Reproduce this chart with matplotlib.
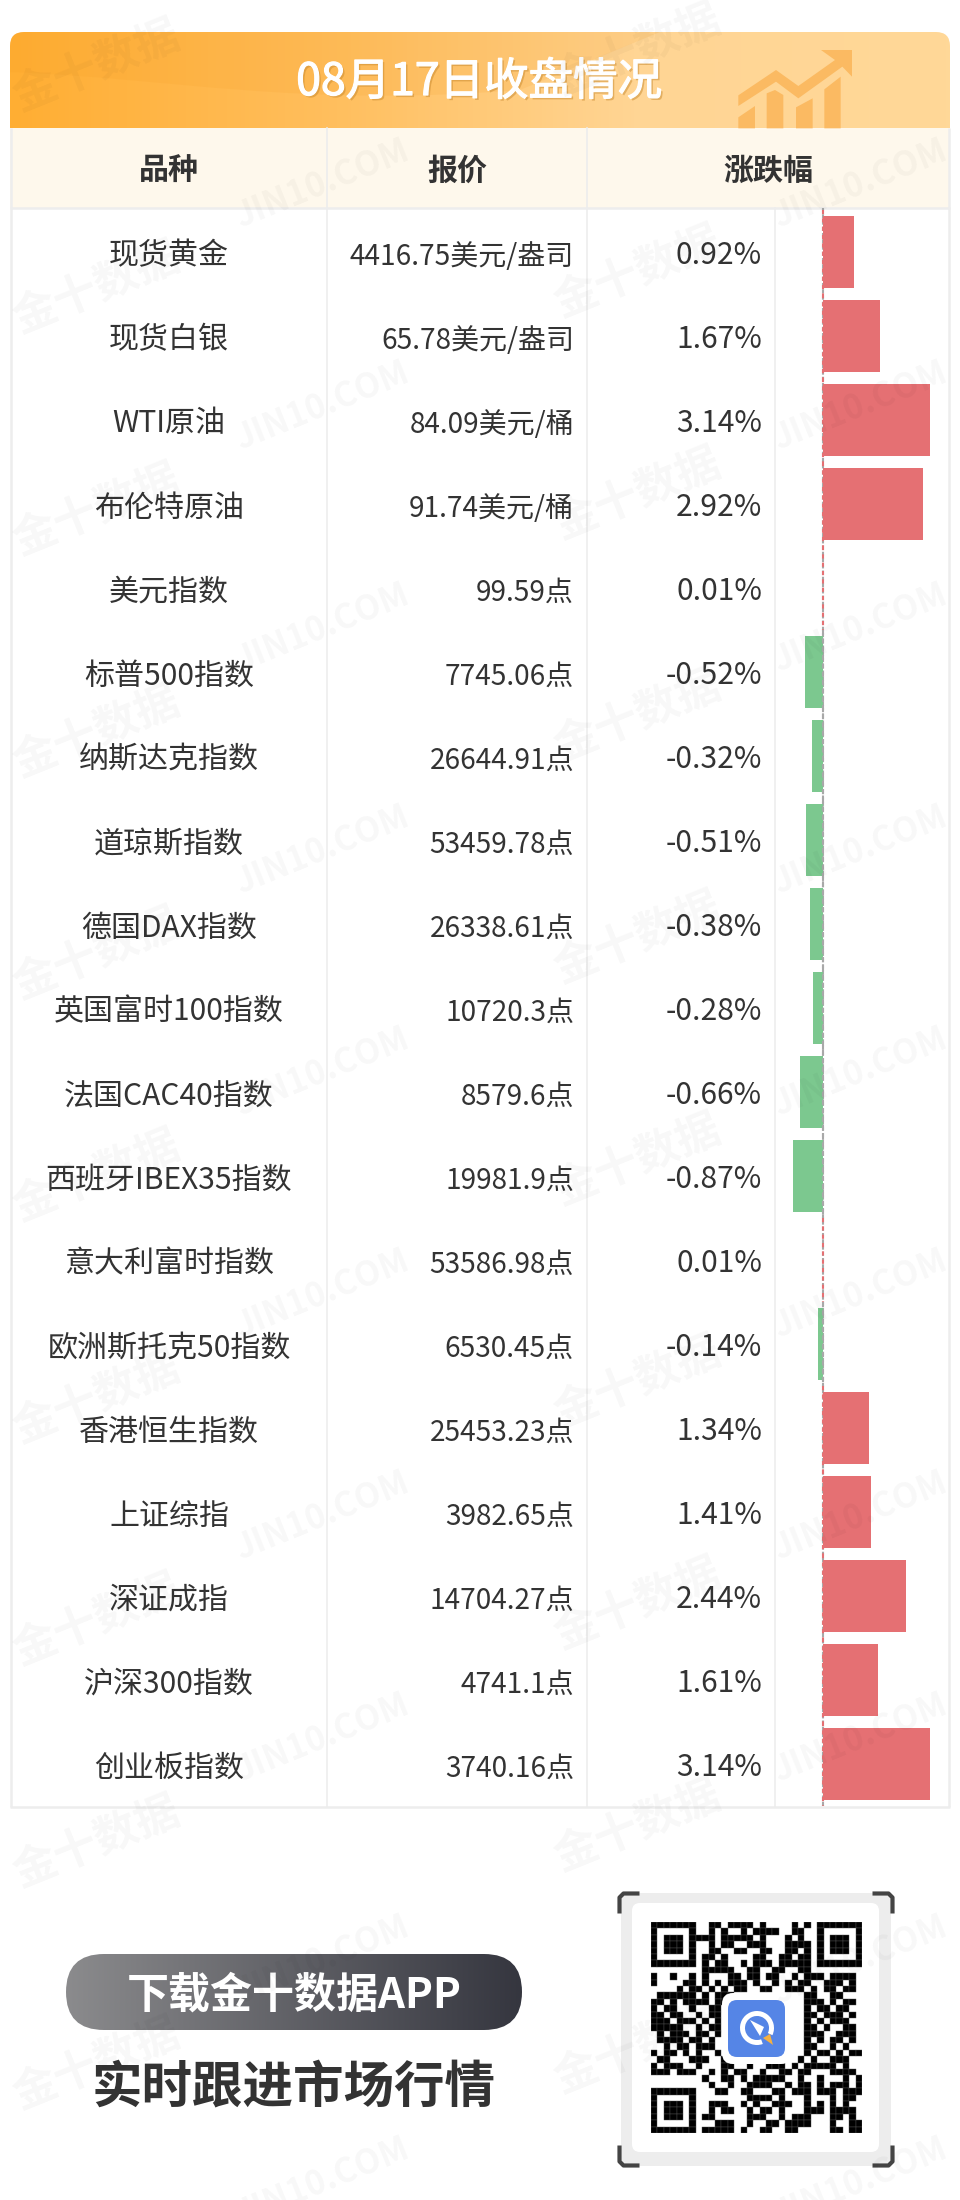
import numpy as np
import matplotlib
matplotlib.use("Agg")
import matplotlib.pyplot as plt
import matplotlib.patheffects as pe
from matplotlib.patches import FancyBboxPatch, Polygon, Wedge, Rectangle, PathPatch
from matplotlib.path import Path
from matplotlib.colors import LinearSegmentedColormap

plt.rcParams['font.family'] = ['Noto Sans CJK SC', 'DejaVu Sans']

names = ["现货黄金", "现货白银", "WTI原油", "布伦特原油", "美元指数", "标普500指数", "纳斯达克指数",
         "道琼斯指数", "德国DAX指数", "英国富时100指数", "法国CAC40指数", "西班牙IBEX35指数",
         "意大利富时指数", "欧洲斯托克50指数", "香港恒生指数", "上证综指", "深证成指", "沪深300指数", "创业板指数"]
prices = ["4416.75美元/盎司", "65.78美元/盎司", "84.09美元/桶", "91.74美元/桶", "99.59点", "7745.06点",
          "26644.91点", "53459.78点", "26338.61点", "10720.3点", "8579.6点", "19981.9点", "53586.98点",
          "6530.45点", "25453.23点", "3982.65点", "14704.27点", "4741.1点", "3740.16点"]
changes = [0.92, 1.67, 3.14, 2.92, 0.01, -0.52, -0.32, -0.51, -0.38, -0.28, -0.66, -0.87, 0.01, -0.14,
           1.34, 1.41, 2.44, 1.61, 3.14]
headers = ["品种", "报价", "涨跌幅"]
title = "08月17日收盘情况"
cta_button = "下载金十数据APP"
cta_line = "实时跟进市场行情"
qr_rows = [
 "111111100110111101000010101111111","100000100101001011110011001000001",
 "101110111101111101000101001011101","101110100101100111000111101011101",
 "101110100110011001100110101011101","100000101101000011001101101000001",
 "111111101011001011101111101111111","000000001111100110011001100000000",
 "100100101000110110110010111011110","100001101010111010010101100111010",
 "000010110101011001100111010110110","011111101011100000000000110011000",
 "110101111011000000000000111010110","101100100110000000000000101101100",
 "110110010110000000000000110111010","111011101010000000000000101011100",
 "111110010110000000000000110100110","010111011010000000000000111001110",
 "011110110100000000000000101011010","001011011100000000000000110010100",
 "101101010010000000000000101101011","011000111001000000000001010011100",
 "101110010001100100111010111110100","111011100101011001001101100011110",
 "000000001001101011111001001000101","000000000100100111100101101011101",
 "111111100011001100011011101110111","100000100000000111101000100010110",
 "101110100111001010011100101010100","101110100101100101101000111011110",
 "101110101100000111001011100011010","100000100011100100110111100010011",
 "111111101111101001100110000011011"]

W, H = 960, 2200
def px(s): return s * 0.72
def ax_px(l, t, r, b, z):
    return fig.add_axes([l / W, 1 - b / H, (r - l) / W, (b - t) / H], zorder=z)

fig = plt.figure(figsize=(W / 100, H / 100), dpi=100, facecolor='white')
bg = fig.add_axes([0, 0, 1, 1], zorder=0)
fg = fig.add_axes([0, 0, 1, 1], zorder=5)
for a in (bg, fg):
    a.set_xlim(0, W); a.set_ylim(H, 0); a.axis('off'); a.patch.set_alpha(0)

# ---- header band
cm = LinearSegmentedColormap.from_list('h', ['#FFAE33', '#FFBE5C', '#FFD594', '#FFD898'])
grad = np.linspace(0, 1, 256)[None, :]
im = bg.imshow(grad, extent=(10, 950, 128, 32), cmap=cm, aspect='auto', zorder=1)
clip = FancyBboxPatch((10, 32), 940, 120, boxstyle="round,pad=0,rounding_size=14", transform=bg.transData,
                      fc='none', ec='none')
bg.add_patch(clip)
im.set_clip_path(clip)
bg.set_xlim(0, W); bg.set_ylim(H, 0)
sw = PathPatch(Path([(10, 32), (10, 72), (170, 78), (300, 108), (520, 90), (660, 32), (10, 32)],
                    [Path.MOVETO, Path.LINETO, Path.CURVE4, Path.CURVE4, Path.CURVE4, Path.LINETO, Path.CLOSEPOLY]),
               fc='#F59A20', ec='none', alpha=0.13, zorder=1.5)
bg.add_patch(sw)
sw.set_clip_path(clip)
icon = '#FBBA62'
O = np.array([720, 30])
for poly in ([(55,295),(55,262),(105,228),(105,295)],
             [(140,295),(140,190),(165,180),(190,195),(190,295)],
             [(228,295),(228,232),(278,205),(278,295)],
             [(313,295),(313,178),(362,140),(362,295)],
             [(55,228),(55,196),(168,120),(235,168),(345,90),(303,60),(396,60),(396,140),(367,110),(235,205),(168,155)]):
    bg.add_patch(Polygon(np.array(poly) / 3 + O, closed=True, fc=icon, ec='none', zorder=2))
bg.text(479, 95, title, color='white', fontsize=px(44.5), ha='center', va='baseline', zorder=3,
        path_effects=[pe.withSimplePatchShadow(offset=(1.5, -1.5), shadow_rgbFace='#C98A30', alpha=0.5),
                      pe.withStroke(linewidth=0.9, foreground='white')])

# ---- table
bg.add_patch(Rectangle((10, 128), 940, 80, fc='#FEF8EC', ec='none', zorder=1))
line = '#EDEDED'
bg.plot([11, 11], [128, 1807], color=line, lw=1.8, zorder=2, solid_capstyle='butt')
bg.plot([948.5, 948.5], [128, 1807], color=line, lw=1.8, zorder=2, solid_capstyle='butt')
bg.plot([10, 950], [1806.5, 1806.5], color=line, lw=1.8, zorder=2, solid_capstyle='butt')
bg.plot([10, 950], [208, 208], color=line, lw=1.8, zorder=2, solid_capstyle='butt')
for x in (327, 587):
    bg.plot([x, x], [128, 1807], color=line, lw=1.2, zorder=2)
bg.plot([775, 775], [208, 1807], color=line, lw=1.2, zorder=2)
head_x = [169, 457, 768]
for x, t in zip(head_x, headers):
    bg.text(x, 180, t, fontsize=px(30), weight='bold', color='#333333', ha='center', va='baseline', zorder=3)
for i, (n, p, c) in enumerate(zip(names, prices, changes)):
    yb = 252 + 84 * i + 12.5
    bg.text(169, yb, n, fontsize=px(30), color='#333333', ha='center', va='baseline', zorder=3)
    bg.text(574, yb, p, fontsize=px(28), color='#333333', ha='right', va='baseline', zorder=3)
    bg.text(762, yb, f"{c:.2f}%", fontsize=px(30), color='#333333', ha='right', va='baseline', zorder=3)

# ---- bars
bar = ax_px(775, 208, 948, 1806, 2)
scale = 34.2
bar.set_xlim(-48 / scale, 125 / scale)
bar.set_ylim((1806 - 252) / 84, (208 - 252) / 84)
bar.axis('off'); bar.patch.set_alpha(0)
rows = np.arange(len(changes))
vals = np.array(changes)
bar.barh(rows, vals, height=72 / 84, color=['#E57073' if v >= 0 else '#7CC88F' for v in vals], zorder=2)
bar.plot([0, 0], [rows[0] - .52, rows[-1] + .52], color='#A8A8A8', lw=1.5, zorder=1, ls=(0, (2, 1)))
for r, v in zip(rows, vals):
    if v >= 0:
        bar.plot([0, 0], [r - .5, r + .5], color='#E57073', lw=1.5, zorder=3, ls=(0, (2, 2)))
    else:
        bar.plot([0, 0], [r - .5, r + .5], color='#A8A8A8', lw=1.5, zorder=3, ls=(0, (2.5, 1.5)))

# ---- call to action
cm2 = LinearSegmentedColormap.from_list('p', ['#8B8B8D', '#35363F'])
im2 = bg.imshow(grad, extent=(66, 522, 2030, 1954), cmap=cm2, aspect='auto', zorder=1)
pill = FancyBboxPatch((66, 1954), 456, 76, boxstyle="round,pad=0,rounding_size=38", transform=bg.transData,
                      fc='none', ec='none')
bg.add_patch(pill)
im2.set_clip_path(pill)
bg.set_xlim(0, W); bg.set_ylim(H, 0)
bg.text(294, 2008, cta_button, color='white', fontsize=px(42), weight='bold', ha='center', va='baseline', zorder=3)
bg.text(294, 2103, cta_line, color='#333333', fontsize=px(50.5), weight='bold', ha='center', va='baseline', zorder=3)

# ---- QR card
bg.add_patch(Rectangle((621, 1893), 270, 273, fc='#EDEDED', ec='none', zorder=1))
bg.add_patch(FancyBboxPatch((632, 1903), 247, 249, boxstyle="round,pad=0,rounding_size=8", fc='white', ec='none', zorder=2))
bk = '#444444'
L = 20
for (x, y, dx, dy) in [(619.5, 1893.5, 1, 1), (892.5, 1893.5, -1, 1), (619.5, 2165.5, 1, -1), (892.5, 2165.5, -1, -1)]:
    bg.plot([x + dx * L, x + dx * 4, x, x], [y, y, y + dy * 4, y + dy * L], color=bk, lw=3, zorder=3, solid_capstyle='butt')

qr = ax_px(651, 1922, 862, 2133, 3)
qr_m = np.array([[int(ch) for ch in r.ljust(33, '0')[:33]] for r in qr_rows])
qy, qx = np.nonzero(qr_m)
qr.bar(qx + 0.5, np.ones_like(qx), width=1, bottom=qy, color='black', edgecolor='#505050', linewidth=0.3)
qr.set_xlim(0, 33); qr.set_ylim(33, 0); qr.axis('off'); qr.patch.set_alpha(0)

# logo
fg.add_patch(FancyBboxPatch((722, 1993), 70, 71, boxstyle="round,pad=0,rounding_size=11", fc='white', ec='none', zorder=1))
fg.add_patch(FancyBboxPatch((728, 2000), 57, 57, boxstyle="round,pad=0,rounding_size=9", fc='#5585E6', ec='none', zorder=2))
fg.add_patch(Wedge((757, 2028), 17, 70, 385, width=5, fc='white', ec='none', zorder=3))
fg.add_patch(Polygon([(750, 2020), (764, 2027), (760, 2036)], closed=True, fc='white', ec='none', zorder=3))
fg.add_patch(Polygon([(763, 2038), (770, 2034), (773, 2045)], closed=True, fc='#F5B041', ec='none', zorder=3))

# ---- watermark
wm = dict(color='black', alpha=0.03, rotation=22, ha='center', va='center', rotation_mode='anchor', zorder=6, weight='bold')
for k in range(10):
    fg.text(96, 66 + 222 * k, "金十数据", fontsize=px(44), **wm)
    fg.text(637, 50 + 222 * k, "金十数据", fontsize=px(44), **wm)
    for x in (322, 860):
        fg.text(x, 184 + 222 * k, "JIN10.COM", fontsize=px(34), **wm)

fig.savefig('out.png', dpi=100, facecolor='white')
